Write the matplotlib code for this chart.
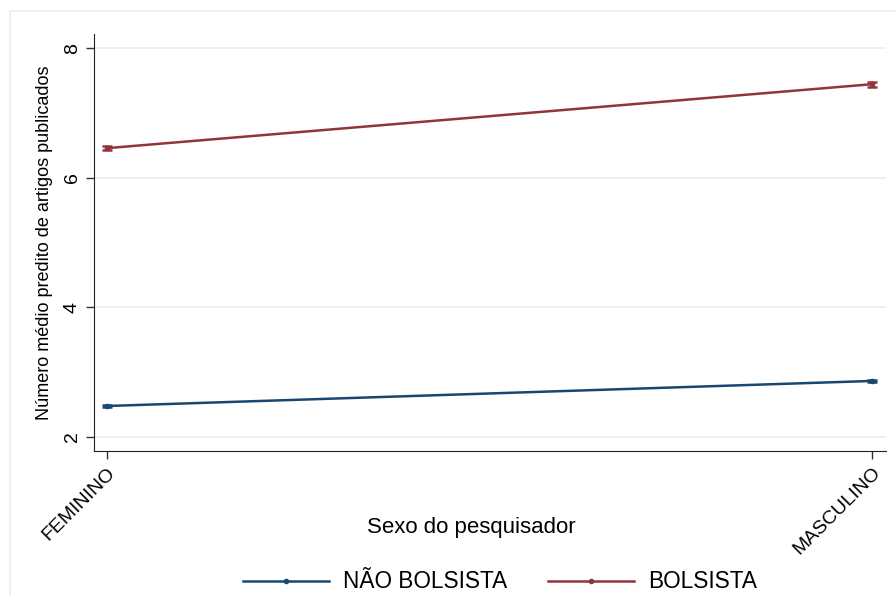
import numpy as np
import matplotlib.pyplot as plt
from matplotlib.patches import Rectangle

plt.rcParams['font.family'] = ['Liberation Sans', 'DejaVu Sans']

# data
sexo = ['FEMININO', 'MASCULINO']
nao_bolsista = [2.475, 2.862]
nao_bolsista_ci = [0.02, 0.02]
bolsista = [6.457, 7.445]
bolsista_ci = [0.035, 0.04]
yticks = [2, 4, 6, 8]

navy = '#1a476f'
maroon = '#90353b'

fig = plt.figure(figsize=(8.96, 5.96), dpi=100)
# light outer frame like the stata graph region
fig.patches.append(Rectangle((10 / 896, -0.01), 1.0, 1 - 11 / 596 + 0.01,
                             transform=fig.transFigure, fill=False,
                             edgecolor='#e8eff0', linewidth=1.2))

ax = fig.add_axes([94 / 896, 145 / 596, 792 / 896, 417 / 596])
x = np.arange(len(sexo))

ax.errorbar(x, nao_bolsista, yerr=nao_bolsista_ci, color=navy, lw=1.8,
            marker='o', ms=3, capsize=3.5, capthick=1.8, label='NÃO BOLSISTA')
ax.errorbar(x, bolsista, yerr=bolsista_ci, color=maroon, lw=1.8,
            marker='o', ms=3, capsize=3.5, capthick=1.8, label='BOLSISTA')

ax.set_xlim(-0.017, 1.018)
ax.set_ylim(1.78, 8.22)
ax.set_yticks(yticks)
ax.set_yticklabels([str(v) for v in yticks], rotation=90, va='center', fontsize=14)
ax.set_xticks(x)
ax.set_xticklabels(sexo, rotation=45, ha='right', rotation_mode='anchor', fontsize=14)
ax.tick_params(length=6, width=1, color='#333333')
ax.grid(axis='y', color='#e8eff0', lw=1.2)
ax.set_axisbelow(True)
for s in ['top', 'right']:
    ax.spines[s].set_visible(False)
for s in ['left', 'bottom']:
    ax.spines[s].set_color('#222222')

ax.set_ylabel('Número médio predito de artigos publicados', fontsize=13, labelpad=8)
fig.text(471 / 896, 1 - 527 / 596, 'Sexo do pesquisador', fontsize=16,
         ha='center', va='center')

# stata-like legend: two equal-width key columns
h, l = ax.get_legend_handles_labels()
h = [hh[0] for hh in h]
for hh, ll, x0 in zip(h, l, [243, 548]):
    fig.legend([hh], [ll], loc='center left', bbox_to_anchor=(x0 / 896, 1 - 582 / 596),
               frameon=False, fontsize=16.3, handlelength=3.8, handletextpad=0.62,
               borderpad=0, borderaxespad=0, numpoints=1)

fig.savefig('out.png', dpi=100)
